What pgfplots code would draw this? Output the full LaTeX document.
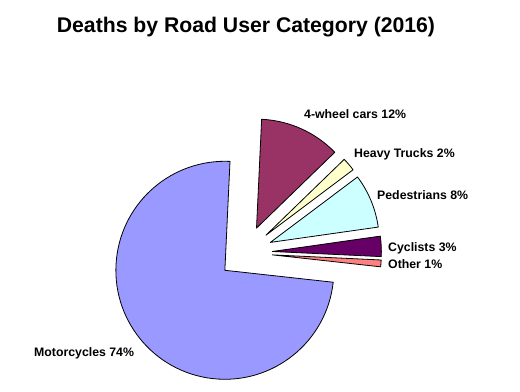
\documentclass[border=0pt]{standalone}
\usepackage{pgfplots}
\usepackage{pgfplotstable}
\pgfplotsset{compat=1.18}
\usepackage{fontspec}
\setmainfont{Liberation Sans}
\definecolor{cMoto}{HTML}{9999FF}
\definecolor{cCars}{HTML}{993366}
\definecolor{cTruck}{HTML}{FFFFCC}
\definecolor{cPed}{HTML}{CCFFFF}
\definecolor{cCyc}{HTML}{660066}
\definecolor{cOth}{HTML}{FF8080}
\newcommand\labfont{\bfseries\fontsize{12.3bp}{14bp}\selectfont}
\newcommand\titlefont{\bfseries\fontsize{21.2bp}{24bp}\selectfont}

\pgfplotstableread[col sep=comma]{
name,pct,col,lx,ly
4-wheel cars,12,cCars,304,273.5
Heavy Trucks,2,cTruck,354,235
Pedestrians,8,cPed,377,192.5
Cyclists,3,cCyc,388,141
Other,1,cOth,388,124
Motorcycles,74,cMoto,34,36
}\piedata

\begin{document}
\begin{tikzpicture}
\path[use as bounding box] (0,0) rectangle (520bp,392bp);
\begin{axis}[hide axis, x=1bp, y=1bp, xmin=0, xmax=520, ymin=0, ymax=392,
  clip=false, disabledatascaling, anchor=south west, at={(0,0)}]
\pgfplotstablegetrowsof{\piedata}
\pgfmathtruncatemacro{\nrows}{\pgfplotsretval-1}
\def\curang{87.3}
\pgfplotsforeachungrouped \i in {0,...,\nrows}{%
  \pgfplotstablegetelem{\i}{pct}\of\piedata \let\pct=\pgfplotsretval
  \pgfplotstablegetelem{\i}{col}\of\piedata \let\col=\pgfplotsretval
  \pgfplotstablegetelem{\i}{name}\of\piedata \let\nm=\pgfplotsretval
  \pgfplotstablegetelem{\i}{lx}\of\piedata \let\lx=\pgfplotsretval
  \pgfplotstablegetelem{\i}{ly}\of\piedata \let\ly=\pgfplotsretval
  \pgfmathsetmacro{\aend}{\curang-3.6*\pct}
  \pgfmathsetmacro{\amid}{(\curang+\aend)/2}
  \pgfmathsetmacro{\ax}{245.4+27*cos(\amid)}
  \pgfmathsetmacro{\ay}{139.25+27*sin(\amid)}
  \pgfmathsetmacro{\bx}{\ax+109*cos(\curang)}
  \pgfmathsetmacro{\by}{\ay+109*sin(\curang)}
  \edef\cmd{\noexpand\filldraw[fill=\col, draw=black, line width=0.8bp, line join=round] (axis cs:\ax,\ay) -- (axis cs:\bx,\by) arc[start angle=\curang, end angle=\aend, radius=109bp] -- cycle;
  \noexpand\node[anchor=base west, font=\noexpand\labfont, inner sep=0pt] at (axis cs:\lx,\ly) {\nm\noexpand\ \pct\noexpand\%};}%
  \cmd
  \let\curang=\aend
}
\node[anchor=base, font=\titlefont, inner sep=0pt] at (axis cs:246,359.7) {Deaths by Road User Category (2016)};
\end{axis}
\end{tikzpicture}
\end{document}
